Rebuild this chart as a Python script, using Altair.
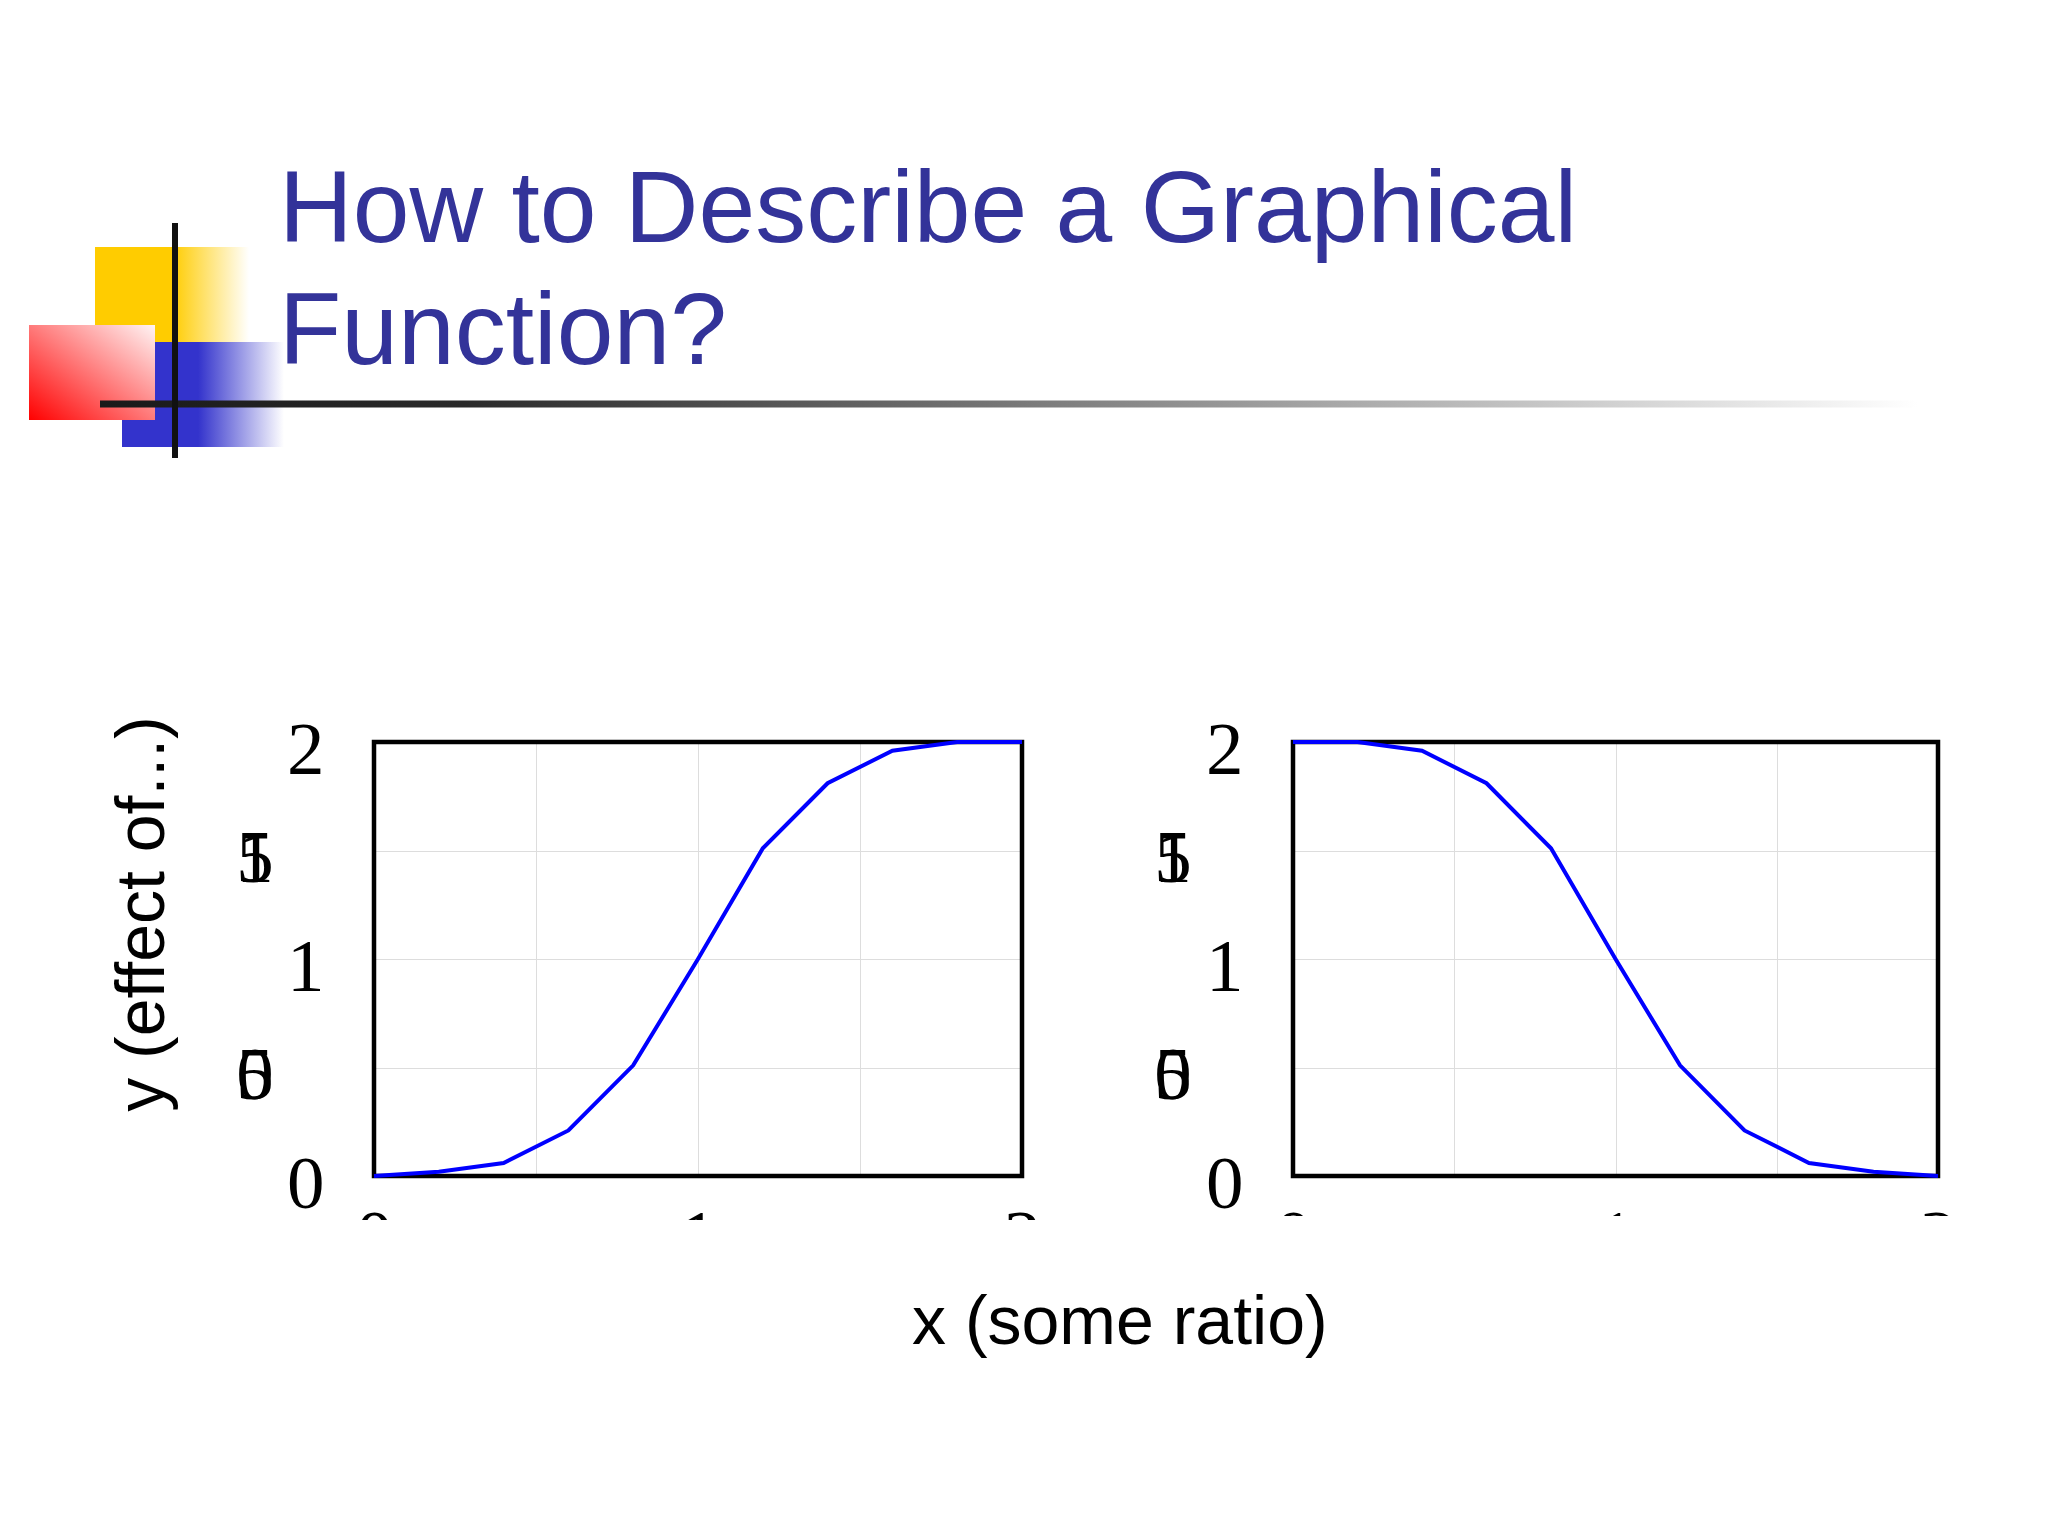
import altair as alt
import pandas as pd

# ---------------- data ----------------
x_vals = [0.0, 0.2, 0.4, 0.6, 0.8, 1.0, 1.2, 1.4, 1.6, 1.8, 2.0]
y_rising = [0.0, 0.02, 0.06, 0.21, 0.51, 1.0, 1.51, 1.81, 1.96, 2.0, 2.0]
y_falling = [2.0, 2.0, 1.96, 1.81, 1.51, 1.0, 0.51, 0.21, 0.06, 0.02, 0.0]
axis_domain = [0, 2]
grid_ticks = [0, 0.5, 1, 1.5, 2]
labelled_ticks = [0, 1, 2]
garbled_ticks = [0.5, 1.5]
title_lines = ["How to Describe a Graphical", "Function?"]
x_title = "x (some ratio)"
y_title = "y (effect of...)"

# ---------------- layout / style ----------------
LEFT_W, RIGHT_W, PLOT_H = 648, 645, 434
GAP = 271
OX, OY = 373, 741          # page position of the left plot's origin
SANS = "Liberation Sans"
SERIF = "Liberation Serif"
GRID = "#dddddd"
TITLE_BLUE = "#333399"


def rx(px):
    return px - OX


def ry(py):
    return py - OY


one = pd.DataFrame({"k": [0]})

LABEL_EXPR = (
    "indexof(" + str(labelled_ticks) + ", datum.value) >= 0 ? format(datum.value, 'd') : ''"
)

garbled_df = pd.DataFrame(
    [
        {"y": v, "c": ch}
        for v in garbled_ticks
        for ch in dict.fromkeys(f"{v:g}".replace(".", ""))
    ]
)


def box(mark, x0, x1, y0, y1):
    return alt.Chart(one).mark_rect(**mark).encode(
        x=alt.value(x0), x2=alt.value(x1), y=alt.value(y0), y2=alt.value(y1)
    )


def grad(stops, x1=0, y1=0, x2=1, y2=0):
    return {
        "gradient": "linear",
        "x1": x1, "y1": y1, "x2": x2, "y2": y2,
        "stops": [{"offset": o, "color": c} for o, c in stops],
    }


def make_plot(ys, width, cut, garble_x, extra=()):
    df = pd.DataFrame({"x": x_vals, "y": ys})
    xsc = alt.Scale(domain=axis_domain, nice=False, zero=False)
    ysc = alt.Scale(domain=axis_domain, nice=False, zero=False)
    x_axis = alt.Axis(
        values=grid_ticks, labelExpr=LABEL_EXPR, grid=True, gridColor=GRID,
        gridWidth=1, ticks=False, tickSize=0, domain=False, labelFont=SERIF,
        labelFontSize=75, labelColor="black", labelPadding=26,
        labelBaseline="top", labelFlush=False, labelOverlap=False, zindex=0,
    )
    y_axis = alt.Axis(
        values=grid_ticks, labelExpr=LABEL_EXPR, grid=True, gridColor=GRID,
        gridWidth=1, ticks=False, tickSize=0, domain=False, labelFont=SERIF,
        labelFontSize=75, labelColor="black", labelPadding=50, labelOffset=8,
        labelBaseline="middle", labelAlign="right", labelOverlap=False, zindex=0,
    )
    xenc = alt.X("x:Q", scale=xsc, axis=x_axis, title="")
    yenc = alt.Y("y:Q", scale=ysc, axis=y_axis, title="")

    frame = box(dict(fillOpacity=0, stroke="black", strokeWidth=4.5), 0, width, 0, PLOT_H)
    curve = alt.Chart(df).mark_line(color="#0000FF", strokeWidth=4).encode(x=xenc, y=yenc)
    garbled = alt.Chart(garbled_df).mark_text(
        font=SERIF, fontSize=75, align="center", baseline="middle", dy=8, color="black"
    ).encode(x=alt.value(garble_x), y=yenc, text="c:N")
    cover = box(dict(fill="white"), -35, width + 35, PLOT_H + cut, PLOT_H + cut + 70)
    return alt.layer(*extra, frame, curve, garbled, cover).properties(
        width=width, height=PLOT_H
    )


# ---------------- decorations & slide text (left panel coordinates) ----------------
anchor = box(dict(fillOpacity=0), rx(8), rx(2028), ry(8), ry(1508))
yellow = box(
    dict(fill=grad([(0, "#FFCC00"), (0.5, "#FFCC00"), (1, "#FFFFFF")])),
    rx(94), rx(248), ry(246), ry(341),
)
blue = box(
    dict(fill=grad([(0, "#3333CC"), (0.47, "#3333CC"), (1, "#FFFFFF")])),
    rx(121), rx(283), ry(341), ry(446),
)
red = box(
    dict(fill=grad([(0, "#FF0000"), (1, "#FFF4F4")], x1=0, y1=1, x2=1, y2=0)),
    rx(28), rx(154), ry(324), ry(419),
)
hline = box(
    dict(fill=grad([(0, "#1a1a1a"), (0.2, "#2a2a2a"), (0.5, "#777777"),
                    (0.8, "#c8c8c8"), (1, "#ffffff")])),
    rx(99), rx(1917), ry(399.5), ry(406.5),
)
vline = box(dict(fill="#111111"), rx(171), rx(177), ry(222), ry(457))

title1 = alt.Chart(pd.DataFrame({"t": [title_lines[0]]})).mark_text(
    align="left", baseline="alphabetic", font=SANS, fontSize=102, color=TITLE_BLUE
).encode(x=alt.value(rx(278)), y=alt.value(ry(241)), text="t:N")
title2 = alt.Chart(pd.DataFrame({"t": [title_lines[1]]})).mark_text(
    align="left", baseline="alphabetic", font=SANS, fontSize=102, color=TITLE_BLUE
).encode(x=alt.value(rx(278)), y=alt.value(ry(363)), text="t:N")

ytitle = alt.Chart(pd.DataFrame({"t": [y_title]})).mark_text(
    align="center", baseline="middle", angle=270, font=SANS, fontSize=68, color="black"
).encode(x=alt.value(rx(143)), y=alt.value(ry(913)), text="t:N")
xtitle = alt.Chart(pd.DataFrame({"t": [x_title]})).mark_text(
    align="left", baseline="alphabetic", font=SANS, fontSize=68, color="black"
).encode(x=alt.value(rx(911)), y=alt.value(ry(1343)), text="t:N")

left = make_plot(
    y_rising, LEFT_W, 44, -119,
    extra=(anchor, yellow, blue, red, hline, vline, title1, title2, ytitle, xtitle),
)
right = make_plot(y_falling, RIGHT_W, 40, -120)

chart = alt.hconcat(
    left, right, spacing=GAP, bounds="flush", padding=0, background="white"
).configure_view(stroke="transparent")

chart.save("out.html", embed_options={"renderer": "svg", "actions": False})
